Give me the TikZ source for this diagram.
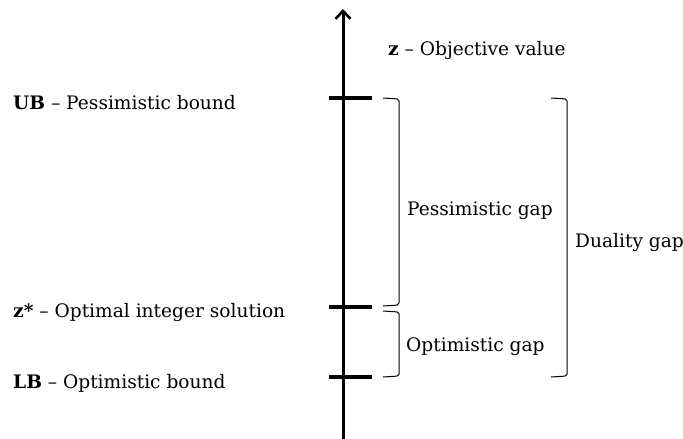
\documentclass[tikz,border=0pt]{standalone}
\usepackage{fontspec}
\setmainfont{DejaVu Serif}
\usetikzlibrary{arrows.meta,positioning}

\begin{document}
\begin{tikzpicture}[x=1pt,y=-1pt,line cap=butt,
  lbl/.style={anchor=west,inner sep=0pt,font=\fontsize{18.6}{20}\selectfont},
  axisline/.style={line width=3pt},
  tickline/.style={line width=3.6pt},
  brkt/.style={line width=1pt,rounded corners=2pt}]
\useasboundingbox (0,0) rectangle (683,439);
% axis
\coordinate (bot) at (343,439);
\coordinate (top) at (343,9);
\draw[axisline,-{Straight Barb[length=8pt,width=15pt,line width=2.6pt]}] (bot) -- (top);
% ticks at UB, z*, LB
\foreach \nm/\yy in {ub/98,opt/307,lb/377} {
  \coordinate (\nm-l) at (329,\yy);
  \coordinate (\nm-r) at (372,\yy);
  \draw[tickline] (\nm-l) -- (\nm-r);
}
% left labels
\node[lbl] (ubtxt) at (13,103) {\textbf{UB} -- Pessimistic bound};
\node[lbl] (opttxt) at (13,312) {\textbf{z*} -- Optimal integer solution};
\node[lbl] (lbtxt) at (13,383) {\textbf{LB} -- Optimistic bound};
\node[lbl] (ztxt) at (388,50) {\textbf{z} -- Objective value};
% brackets
\coordinate (pa) at (383,98);
\coordinate (pb) at (383,306);
\draw[brkt] (pa) -- (399,99) -- (399,305) -- (pb);
\coordinate (oa) at (383,311);
\coordinate (ob) at (383,377);
\draw[brkt] (oa) -- (399,312) -- (399,376) -- (ob);
\coordinate (da) at (551,98);
\coordinate (db) at (551,377);
\draw[brkt] (da) -- (567,99) -- (567,376) -- (db);
\node[lbl] (pgap) at (407,211) {Pessimistic gap};
\node[lbl] (ogap) at (406,347) {Optimistic gap};
\node[lbl] (dgap) at (575,242) {Duality gap};
\end{tikzpicture}
\end{document}
